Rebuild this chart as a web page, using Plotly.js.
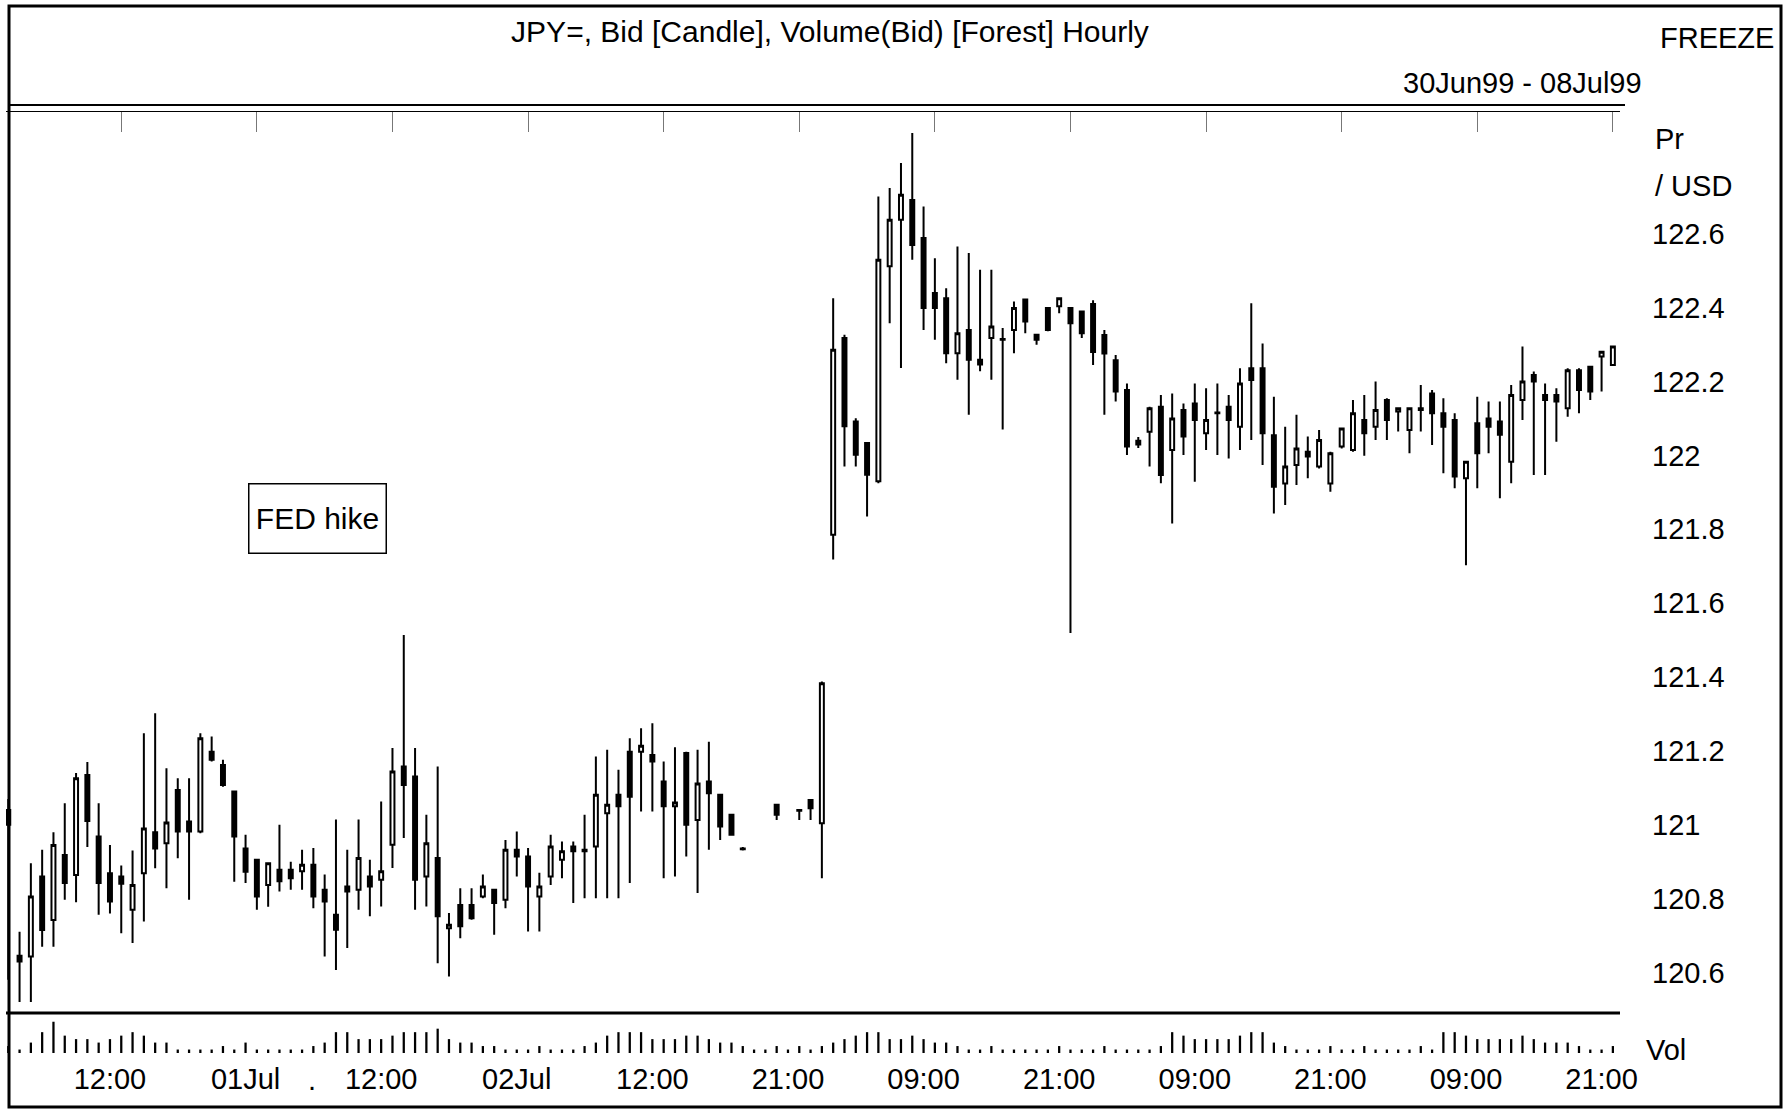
<!DOCTYPE html>
<html><head><meta charset="utf-8">
<script src="https://cdn.plot.ly/plotly-3.0.1.min.js"></script>
<style>html,body{margin:0;padding:0;background:#fff}#chart{width:1790px;height:1118px}</style>
</head><body><div id="chart"></div>
<script>
// ---- data (hourly bars, index 0..142) ----
const openP = [121.04,120.645,120.643,120.86,120.742,120.918,120.864,121.135,120.968,120.869,
120.86,120.77,120.869,120.98,120.95,121.094,121.009,120.982,121.198,121.162,
121.09,120.936,120.905,120.837,120.878,120.878,120.874,120.892,120.824,120.756,
120.833,120.824,120.86,120.851,120.946,121.158,121.131,120.86,120.91,120.72,
120.783,120.783,120.806,120.824,120.797,120.932,120.914,120.806,120.86,120.905,
120.941,120.928,120.941,121.031,121.081,121.198,121.198,121.189,121.117,121.05,
121.194,121.013,121.117,121.081,121.027,120.936,null,null,121.054,null,
121.04,121.067,121.004,121.785,122.318,122.092,122.034,121.93,122.512,122.638,
122.692,122.589,122.44,122.426,122.277,122.34,122.259,122.318,122.313,122.34,
122.422,122.327,122.399,122.404,122.399,122.39,122.41,122.326,122.258,122.177,
122.04,122.064,122.132,122.015,122.123,122.141,122.06,122.114,122.132,122.078,
122.236,122.236,122.055,121.924,121.974,122.01,121.97,121.924,122.024,122.015,
122.096,122.078,122.15,122.119,122.069,122.128,122.168,122.114,122.096,121.938,
122.087,122.1,122.092,121.983,122.15,122.218,122.164,122.164,122.128,122.231,
122.24,122.268,122.245];
const highP = [121.07,120.71,120.896,120.932,120.98,121.058,121.14,121.17,121.058,120.945,
120.89,120.93,121.248,121.302,121.153,121.126,121.126,121.248,121.239,121.176,
121.09,120.973,120.905,120.896,121.0,120.9,120.932,120.937,120.865,121.014,
120.932,121.014,120.905,121.063,121.208,121.514,121.208,121.027,121.158,120.761,
120.828,120.828,120.865,120.824,120.959,120.982,120.937,120.87,120.973,120.955,
120.955,121.027,121.185,121.203,121.149,121.234,121.261,121.275,121.171,121.21,
121.198,121.203,121.225,121.081,121.03,120.94,null,null,121.054,null,
121.04,121.07,121.388,122.426,122.327,122.101,122.034,122.701,122.724,122.792,
122.873,122.674,122.534,122.453,122.566,122.548,122.503,122.503,122.345,122.417,
122.422,122.327,122.399,122.426,122.4,122.39,122.42,122.34,122.272,122.195,
122.05,122.132,122.164,122.168,122.141,122.195,122.182,122.195,122.164,122.236,
122.412,122.303,122.159,122.078,122.11,122.051,122.069,122.01,122.073,122.15,
122.164,122.2,122.155,122.128,122.128,122.191,122.177,122.155,122.114,121.983,
122.159,122.146,122.146,122.191,122.295,122.227,122.195,122.182,122.236,122.236,
122.24,122.281,122.295];
const lowP = [120.58,120.52,120.52,120.67,120.67,120.797,120.79,120.94,120.756,120.76,
120.706,120.68,120.738,120.882,120.828,120.909,120.797,120.977,121.171,121.103,
120.846,120.842,120.77,120.778,120.819,120.824,120.824,120.774,120.643,120.607,
120.666,120.77,120.752,120.779,120.883,120.964,120.77,120.779,120.625,120.589,
120.693,120.743,120.801,120.702,120.774,120.86,120.711,120.711,120.837,120.855,
120.788,120.801,120.801,120.801,120.801,120.842,121.036,121.036,120.855,120.86,
120.914,120.815,120.932,120.959,120.97,120.93,null,null,121.013,null,
121.013,121.013,120.855,121.718,121.97,121.97,121.835,121.925,122.358,122.237,
122.53,122.34,122.313,122.25,122.205,122.11,122.228,122.205,122.07,122.277,
122.331,122.3,122.336,122.385,121.519,122.318,122.245,122.11,122.146,122.001,
122.02,121.97,121.925,121.816,122.001,121.929,122.015,122.001,121.992,122.015,
122.042,121.974,121.843,121.866,121.92,121.938,121.965,121.902,122.019,122.01,
121.999,122.042,122.042,122.065,122.006,122.065,122.028,121.952,121.911,121.703,
121.911,122.006,121.884,121.925,122.096,121.947,121.947,122.037,122.105,122.114,
122.15,122.173,122.245];
const closeP = [121.0,120.63,120.806,120.715,120.945,120.842,121.126,121.01,120.842,120.792,
120.84,120.837,120.99,120.936,121.006,120.982,120.982,121.234,121.176,121.108,
120.968,120.873,120.806,120.896,120.847,120.855,120.892,120.806,120.792,120.716,
120.819,120.91,120.833,120.874,121.144,121.108,120.851,120.95,120.752,120.729,
120.725,120.747,120.833,120.788,120.932,120.914,120.833,120.833,120.941,120.928,
120.928,120.932,121.081,121.054,121.05,121.076,121.214,121.171,121.05,121.06,
121.0,121.112,121.085,120.995,120.973,120.934,null,null,121.027,null,
121.038,121.045,121.383,122.286,122.079,122.002,121.948,122.53,122.638,122.706,
122.57,122.399,122.399,122.277,122.331,122.259,122.246,122.349,122.315,122.399,
122.363,122.313,122.34,122.426,122.358,122.331,122.28,122.276,122.173,122.024,
122.03,122.128,121.947,122.1,122.051,122.096,122.096,122.116,122.096,122.195,
122.204,122.06,121.915,121.97,122.019,121.997,122.042,122.006,122.073,122.114,
122.06,122.123,122.096,122.128,122.128,122.123,122.114,122.078,121.943,121.983,
122.006,122.078,122.056,122.164,122.2,122.2,122.15,122.146,122.231,122.177,
122.173,122.281,122.295];
const volume = [2,1,3,6,9,5,4,4,3,4,5,6,5,3,3,
1,1,1,1,2,1,3,1,1,1,1,1,2,
3,6,6,4,4,4,5,6,6,6,7,4,3,3,2,2,
1,1,1,2,1,1,1,2,
3,5,6,6,6,4,4,4,5,5,4,3,3,2,1,1,2,
1,2,1,2,
3,4,5,6,6,4,4,5,4,3,3,2,
1,1,2,1,1,1,1,1,2,1,1,1,2,1,1,1,1,2,
6,5,4,4,4,4,5,6,6,3,2,
1,1,1,2,1,1,2,1,1,1,1,2,1,
6,6,5,4,4,4,4,5,4,3,3,3,2,
1,1,2];
const xTickVals = [9,21,33,45,57,69,81,93,105,117,129,141];
const xTickText = ['12:00','01Jul','12:00','02Jul','12:00','21:00','09:00','21:00','09:00','21:00','09:00','21:00'];
const yTickVals = [120.6,120.8,121,121.2,121.4,121.6,121.8,122,122.2,122.4,122.6];
const yTickText = ['120.6','120.8','121','121.2','121.4','121.6','121.8','122','122.2','122.4','122.6'];

// ---- build traces ----
const W = 1790, H = 1118;
const px = v => v / W, py = v => 1 - v / H;
const cx = [], co = [], ch = [], cl = [], cc = [];
openP.forEach((o, i) => {
  if (o === null) return;
  cx.push(i); co.push(o); ch.push(highP[i]); cl.push(lowP[i]); cc.push(closeP[i]);
});
const vx = volume.map((v, i) => i);

const candle = {
  type: 'candlestick', x: cx, open: co, high: ch, low: cl, close: cc,
  xaxis: 'x', yaxis: 'y2', whiskerwidth: 0, hoverinfo: 'skip', showlegend: false,
  increasing: {line: {color: '#000', width: 2}, fillcolor: '#fff'},
  decreasing: {line: {color: '#000', width: 2}, fillcolor: '#000'}
};
const vol = {
  type: 'bar', x: vx, y: volume, xaxis: 'x', yaxis: 'y',
  width: 0.2, marker: {color: '#000', line: {width: 0}}, hoverinfo: 'skip', showlegend: false
};
// empty helper trace so the top (x2) axis with its tick marks is drawn
const topAxis = {type: 'scatter', x: [], y: [], xaxis: 'x2', yaxis: 'y2', hoverinfo: 'skip', showlegend: false};

const font = 'Liberation Sans, Arial, sans-serif';
const xr = [-0.2, 142.63];
const layout = {
  width: W, height: H, margin: {l: 0, r: 0, t: 0, b: 0},
  paper_bgcolor: '#fff', plot_bgcolor: '#fff',
  font: {family: font, color: '#000', size: 29},
  showlegend: false, boxgap: 0.5,
  title: {text: 'JPY=, Bid [Candle], Volume(Bid) [Forest] Hourly', x: px(830), xanchor: 'center',
          y: py(31), yanchor: 'middle', font: {size: 30, family: font, color: '#000'}},
  xaxis: {domain: [px(6), px(1620)], range: xr, anchor: 'y', tickvals: xTickVals, ticktext: xTickText,
          ticks: '', showgrid: false, zeroline: false, showline: false, tickfont: {size: 29},
          ticklabelstandoff: 6, rangeslider: {visible: false}, fixedrange: true},
  xaxis2: {domain: [px(6), px(1620)], range: xr, overlaying: 'x', anchor: 'y2', side: 'top',
           tickvals: xTickVals.map(v => v + 1), ticks: 'inside', ticklen: 20, tickwidth: 1, tickcolor: '#777',
           showticklabels: false, showgrid: false, zeroline: false, showline: true, linecolor: '#000', linewidth: 1.5},
  yaxis: {domain: [py(1053), py(1020)], range: [0, 9.5], showticklabels: false, showgrid: false,
          zeroline: false, showline: false, ticks: ''},
  yaxis2: {domain: [py(1012), py(112)], range: [120.493, 122.930], side: 'right', anchor: 'x',
           tickvals: yTickVals, ticktext: yTickText, ticks: '', showgrid: false, zeroline: false,
           showline: false, tickfont: {size: 29}, ticklabelstandoff: 31},
  shapes: [
    {type: 'rect', xref: 'paper', yref: 'paper', x0: px(9), x1: px(1781), y0: py(1107), y1: py(6),
     line: {color: '#000', width: 3}},
    {type: 'line', xref: 'paper', yref: 'paper', x0: px(9), x1: px(1625), y0: py(105), y1: py(105),
     line: {color: '#000', width: 2}},
    {type: 'line', xref: 'paper', yref: 'paper', x0: px(6), x1: px(1620), y0: py(1013), y1: py(1013),
     line: {color: '#000', width: 3}}
  ],
  annotations: [
    {text: 'FREEZE', xref: 'paper', yref: 'paper', x: px(1658), y: py(38), xanchor: 'left', yanchor: 'middle',
     showarrow: false, font: {size: 29}},
    {text: '30Jun99 - 08Jul99', xref: 'paper', yref: 'paper', x: px(1644), y: py(83), xanchor: 'right', yanchor: 'middle',
     showarrow: false, font: {size: 29}},
    {text: 'Pr', xref: 'paper', yref: 'paper', x: px(1653), y: py(139), xanchor: 'left', yanchor: 'middle',
     showarrow: false, font: {size: 29}},
    {text: '/ USD', xref: 'paper', yref: 'paper', x: px(1653), y: py(186), xanchor: 'left', yanchor: 'middle',
     showarrow: false, font: {size: 29}},
    {text: 'Vol', xref: 'paper', yref: 'paper', x: px(1644), y: py(1050), xanchor: 'left', yanchor: 'middle',
     showarrow: false, font: {size: 29}},
    {text: '.', xref: 'paper', yref: 'paper', x: px(312), y: py(1080), xanchor: 'center', yanchor: 'middle',
     showarrow: false, font: {size: 29}},
    {text: 'FED hike', xref: 'x', yref: 'y2', x: 27.4, y: 121.83, xanchor: 'center', yanchor: 'middle',
     showarrow: false, font: {size: 30}, bordercolor: '#000', borderwidth: 1.5, borderpad: 2,
     width: 132, height: 64, bgcolor: '#fff'}
  ]
};

Plotly.newPlot('chart', [vol, candle, topAxis], layout, {staticPlot: true, displayModeBar: false});
</script>
</body></html>
